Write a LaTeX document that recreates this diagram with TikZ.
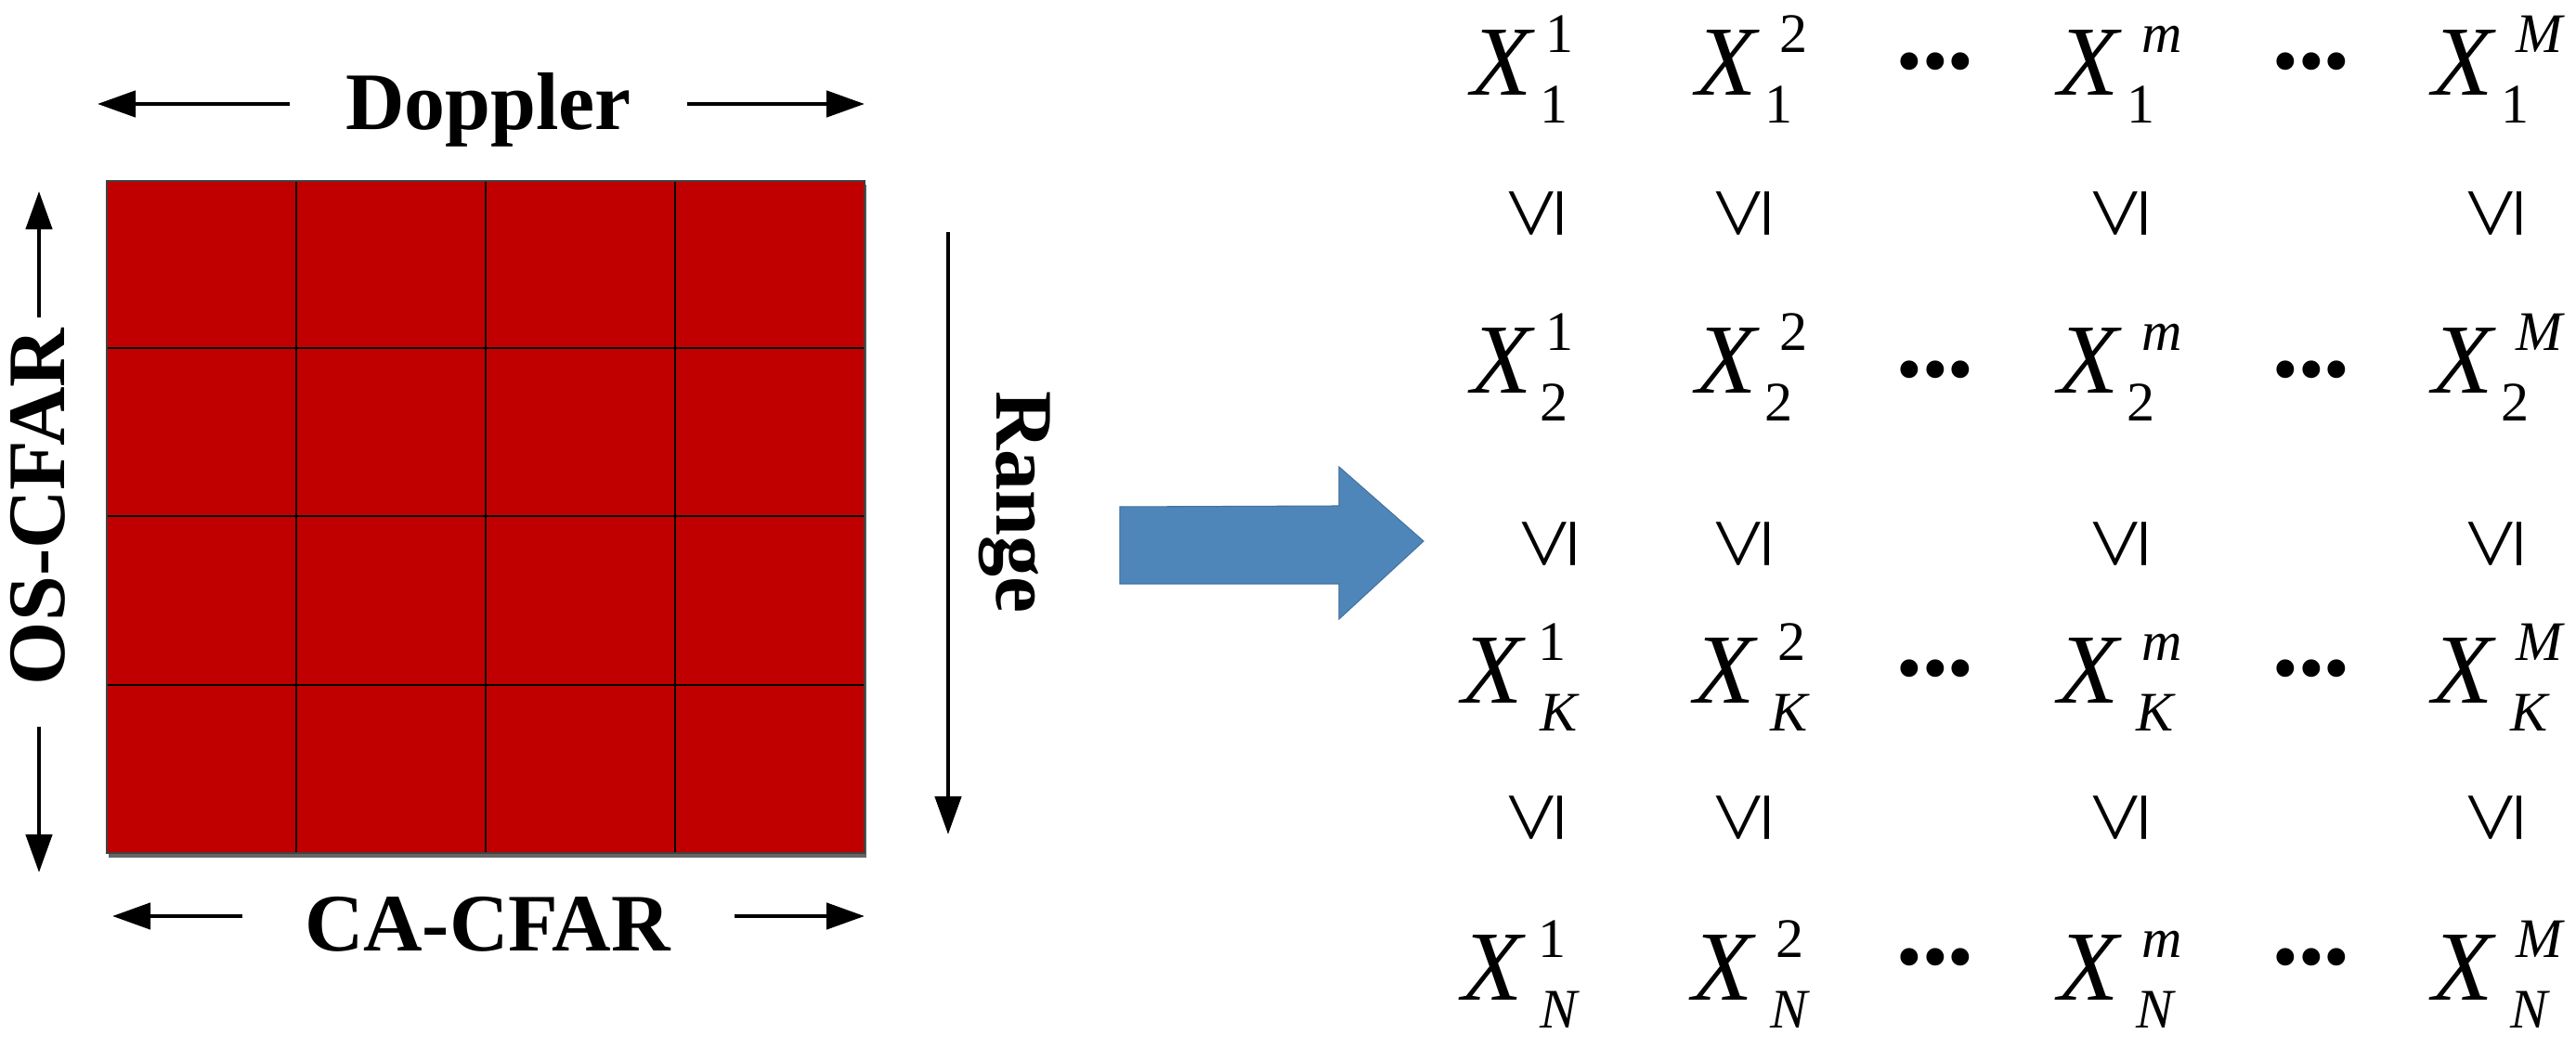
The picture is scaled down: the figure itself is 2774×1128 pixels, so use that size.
\documentclass[tikz,border=0pt]{standalone}
\usepackage{fontspec}
\setmainfont{Liberation Serif}
\usetikzlibrary{arrows.meta}
\definecolor{gridred}{RGB}{192,0,0}
\definecolor{bluearrow}{RGB}{79,134,186}
\newcommand\xentry[7]{%
  \node[xmain] (#1) at (#2,#3) {X};
  \node[xscript] (#1p) at (#2+#5,#3-46) {#4};
  \node[xscript] (#1b) at (#2+#7,#3+30) {#6};
}
\begin{document}
\begin{tikzpicture}[x=0.01cm,y=-0.01cm,
  lbl/.style={font=\fontsize{25}{30}\selectfont\bfseries, inner sep=0, anchor=base},
  dimarrow/.style={line width=1.3pt, -{Triangle[length=0.41cm,width=0.28cm]}},
  xmain/.style={font=\fontsize{30.4}{36}\selectfont\itshape, inner sep=0, anchor=base west},
  xscript/.style={font=\fontsize{17.1}{20}\selectfont, inner sep=0, anchor=base west},
  leqsym/.style={font=\fontsize{28.5}{34}\selectfont, inner sep=0, rotate=90},
  dotsym/.style={font=\fontsize{22.5}{26}\selectfont, inner sep=0, anchor=base},
  gridline/.style={draw=black, line width=0.6pt},
]
\useasboundingbox (0,0) rectangle (2774,1128);
% ---- grid ----
\fill[black!60] (117,199) rectangle (933,924);
\fill[gridred] (115,195) rectangle (931,919);
\foreach \x in {319,523,727} \draw[gridline] (\x,195) -- (\x,919);
\foreach \y in {375,556,738} \draw[gridline] (115,\y) -- (931,\y);
\draw[draw=black!75, line width=0.8pt] (115,195) rectangle (931,919);
% ---- labels ----
\node[lbl] (dop) at (526,140) {Doppler};
\node[lbl] (ca) at (525,1025) {CA-CFAR};
\node[lbl, rotate=90] (os) at (70,546) {OS-CFAR};
\node[lbl, rotate=-90] (rng) at (1073,541) {Range};
% ---- dimension arrows ----
\coordinate (dopLt) at (312,112); \coordinate (dopLh) at (105,112);
\coordinate (dopRt) at (740,112); \coordinate (dopRh) at (931,112);
\draw[dimarrow] (dopLt) -- (dopLh);
\draw[dimarrow] (dopRt) -- (dopRh);
\coordinate (caLt) at (261,987); \coordinate (caLh) at (121,987);
\coordinate (caRt) at (791,987); \coordinate (caRh) at (931,987);
\draw[dimarrow] (caLt) -- (caLh);
\draw[dimarrow] (caRt) -- (caRh);
\coordinate (osUt) at (42,342); \coordinate (osUh) at (42,206);
\coordinate (osDt) at (42,783); \coordinate (osDh) at (42,940);
\draw[dimarrow] (osUt) -- (osUh);
\draw[dimarrow] (osDt) -- (osDh);
\coordinate (rgt) at (1021,250); \coordinate (rgh) at (1021,899);
\draw[dimarrow] (rgt) -- (rgh);
% ---- block arrow ----
\fill[bluearrow, draw=bluearrow!85!black, line width=0.3pt]
  (1206,546) -- (1442,545) -- (1442,503) -- (1533,583) -- (1442,667) -- (1442,629) -- (1206,629) -- cycle;
% ---- matrix ----
\xentry{a1}{1584}{103}{1}{80}{1}{74}
\xentry{a2}{1826}{103}{2}{90}{1}{74}
\xentry{am}{2216}{103}{\textit{m}}{90}{1}{74}
\xentry{aM}{2619}{103}{\textit{M}}{90}{1}{74}
\xentry{b1}{1584}{424}{1}{80}{2}{74}
\xentry{b2}{1826}{424}{2}{90}{2}{74}
\xentry{bm}{2216}{424}{\textit{m}}{90}{2}{74}
\xentry{bM}{2619}{424}{\textit{M}}{90}{2}{74}
\xentry{c1}{1574}{758}{1}{82}{\textit{K}}{84}
\xentry{c2}{1824}{758}{2}{90}{\textit{K}}{82}
\xentry{cm}{2216}{758}{\textit{m}}{90}{\textit{K}}{84}
\xentry{cM}{2619}{758}{\textit{M}}{90}{\textit{K}}{84}
\xentry{d1}{1574}{1078}{1}{82}{\textit{N}}{84}
\xentry{d2}{1822}{1078}{2}{90}{\textit{N}}{84}
\xentry{dm}{2216}{1078}{\textit{m}}{90}{\textit{N}}{84}
\xentry{dM}{2619}{1078}{\textit{M}}{90}{\textit{N}}{84}
% dots
\foreach \r/\y in {a/93,b/425,c/747,d/1058}{
  \node[dotsym] (\r dl) at (2084,\y) {•••};
  \node[dotsym] (\r dr) at (2489,\y) {•••};
}
% leq signs
\foreach \r/\y/\xa in {1/230/1654,2/586/1668,3/881/1654}{
  \node[leqsym] (l\r a) at (\xa,\y) {≤};
  \node[leqsym] (l\r b) at (1877,\y) {≤};
  \node[leqsym] (l\r c) at (2283,\y) {≤};
  \node[leqsym] (l\r d) at (2687,\y) {≤};
}
\end{tikzpicture}
\end{document}
